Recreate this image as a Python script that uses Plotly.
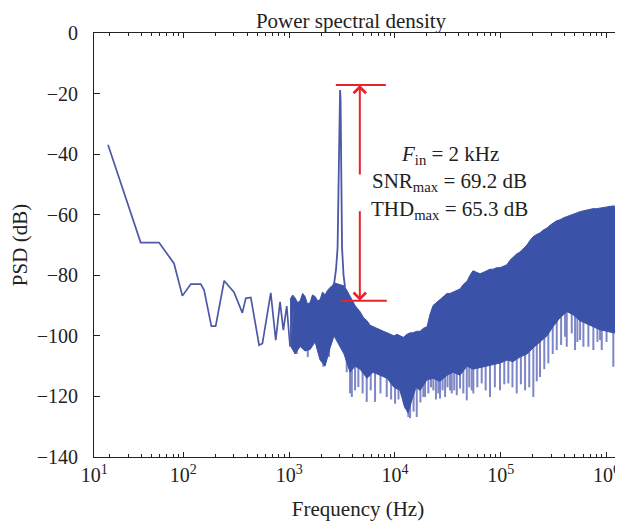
import numpy as np
import plotly.graph_objects as go

FONT = "Liberation Serif"
BAND = "#3a52a8"
LINE = "#4d58a6"
SPIKE = "#7d86c6"
RED = "#e8232a"
AX = "#222222"

# ---- low-frequency part of the PSD (Hz, dB) ----
line_freq = [19.4, 39.5, 58.9, 81.6, 97.9, 117.6, 146, 157, 184, 202, 243, 301,
             361, 389, 434, 520, 559, 670, 747, 820, 881, 949, 1020, 1097]
line_psd = [-36.9, -69.2, -69.2, -76.1, -86.8, -82.9, -82.9, -84.9, -96.8, -96.8, -81.8, -85.6,
            -92.4, -87.6, -87.3, -103.1, -102.5, -85.8, -101.4, -88.8, -98.1, -90.2, -103.6, -91.5]

# ---- signal tone ----
peak_freq = [2657, 2775, 2868, 2931, 2994, 3029, 3062, 3114, 3162, 3267, 3376]
peak_psd = [-83, -78, -71, -45, -22, -18.8, -22, -45, -71, -80, -84]

# ---- dense noise band: upper envelope (Hz, dB) ----
upper_freq = [1020, 1080, 1138, 1200, 1268, 1340, 1414, 1490, 1577, 1660, 1758, 1860,
              1960, 2070, 2185, 2300, 2436, 2550, 2657,
              3302, 3520, 3764, 3970, 4197, 4430, 4679, 5050, 5450, 5820, 6210, 6700,
              7230, 7800, 8420, 9100, 9800, 10450, 11160, 12000, 13000, 13900, 14820,
              16000, 17260, 18600, 20100, 21400, 22900, 24700, 26670, 28800, 31060,
              33100, 35400, 38200, 41220, 44400, 48000, 51200, 54700, 59000, 63700,
              68800, 74200, 79200, 84500, 91200, 98400, 106000, 114600, 122400, 130600,
              141000, 152000, 164000, 177000, 189000, 201800, 218000, 235000, 254000,
              273700, 292000, 311800, 337000, 363000, 392000, 423300, 452000, 482300,
              520000, 561600, 606000, 654100, 698000, 745000, 804000, 867500, 936000,
              1010000, 1078000, 1151000, 1243000, 1340000, 1400000]
upper_psd = [-88, -86.5, -87.5, -89, -88.5, -86, -87, -89.5, -89, -86.5, -87, -88.5,
             -88, -85.5, -86.5, -85, -84, -83.5, -82.5,
             -83.5, -85, -87, -88.5, -90, -91, -92, -94, -95, -96.5, -97, -97.5,
             -98, -98.5, -99, -99.5, -100, -99.5, -100, -100.5, -99.5, -99, -99,
             -98.5, -98.5, -97.5, -97, -93, -90, -89, -88, -87, -86,
             -86, -85.5, -85, -84.5, -83, -82, -80, -78.5, -79, -79.5,
             -79, -78.5, -78, -78, -77.5, -77.5, -77, -76.5, -75, -74,
             -73, -72.3, -71, -70, -68.5, -67.3, -66.5, -66, -65,
             -64.4, -63.5, -62.8, -62, -61.7, -61, -60.6, -60.2, -60,
             -59.5, -59, -58.7, -58.4, -58.2, -58, -58, -57.8, -57.5,
             -57.3, -57.2, -57.1, -57.3, -57.5, -57.5]

# ---- dense noise band: lower envelope of the solid body (Hz, dB) ----
lower_freq = [1020, 1138, 1268, 1414, 1577, 1758, 1960, 2185, 2436, 2657,
              3302, 3764, 4197, 4679, 5450, 6210, 7230, 8420, 9800, 11160,
              12190, 13300, 14520, 15830,
              17260, 20100, 22900, 26670, 31060, 35400, 41220, 48000, 54700, 63700,
              74200, 84500, 98400, 114600, 130600, 152000, 177000, 201800, 235000, 273700,
              311800, 363000, 423300, 482300, 561600, 654100, 745000, 867500, 1010000, 1151000,
              1340000, 1400000]
lower_psd = [-103, -106, -103.5, -105, -104.5, -102, -108, -110, -104, -100,
             -106, -112, -110, -111, -114, -112, -113, -114, -117, -118,
             -123, -125.5, -121, -117,
             -118, -114.5, -114, -115, -113, -112, -113, -110, -111, -110.5,
             -110, -109.5, -109, -108, -108.5, -107, -106, -104, -102, -100,
             -97, -94, -92, -93, -95, -96, -97, -98, -98.5, -99,
             -99, -99]

# ---- downward noise spikes below the body (Hz, tip dB) ----
spike_freq = [1180, 1500, 2104, 2380, 3500, 3767, 3910, 4200, 4510, 4950, 5410, 5900, 6485,
              7300, 8360, 9200, 10030, 10800, 11590, 12500, 13390, 13900, 15000, 16070,
              17400, 18540, 19250, 20690, 21900, 23070, 24400, 25700, 26670, 28200, 29780,
              31400, 33200, 34420, 36300, 38390, 41220, 44300, 47740, 50400, 53210, 55050,
              60100, 66070, 72000, 79200, 88000, 98400, 108000, 118000, 129000, 141600,
              155000, 169800, 186000, 203300, 219000, 235000, 258000, 281800, 310000,
              338200, 372000, 405500, 420600, 469000, 503800, 530000, 562300, 604300,
              673700, 750600, 820000, 869000, 901000, 1000000, 1159000, 1240000, 1291000,
              1343000]
spike_psd = [-106, -107, -110.2, -107, -112, -119, -120.2, -118, -116.9, -119, -121.8, -118, -121.8,
             -119, -120.2, -121, -122.4, -121, -119.6, -124, -126.8, -127.2, -125, -126.8,
             -122, -120.2, -120.2, -119, -117, -118, -121, -119, -120.7, -118, -120.2,
             -117, -118, -119, -118, -119.6, -117.4, -119, -121.3, -117, -118, -119,
             -117, -115.7, -118, -120.2, -117, -118, -116, -115.7, -117, -119,
             -116, -118, -117, -120.2, -115, -113.6, -111, -109.1, -106,
             -104.7, -103, -100.3, -103.6, -99.2, -104.7, -102, -101.4, -103.6,
             -103.6, -104.7, -102, -101.4, -104.7, -102, -110.2, -103, -103.6,
             -104.7]

# ---- annotation values ----
mark_freq = 4656
snr_top_db, snr_bottom_db = -17.2, -88.4
gap_top_db, gap_bottom_db = -47.2, -58.4
top_bar_freq = [2761, 8204]
bottom_bar_freq = [3076, 8375]
labels = ["<i>F</i><sub>in</sub> = 2 kHz", "SNR<sub>max</sub> = 69.2 dB", "THD<sub>max</sub> = 65.3 dB"]

x_tick_vals = [14.35, 1e2, 1e3, 1e4, 1e5, 1e6]
x_tick_text = ["10<sup>1</sup>", "10<sup>2</sup>", "10<sup>3</sup>", "10<sup>4</sup>", "10<sup>5</sup>", "10<sup>6</sup>"]
x_minor = [m * 10 ** d for d in range(1, 6) for m in range(2, 10)]
y_tick_vals = [-140, -120, -100, -80, -60, -40, -20, 0]

# spike segments: from tip up into the band body
lf = np.log10(lower_freq)
sx, sy = [], []
for f, v in zip(spike_freq, spike_psd):
    base = float(np.interp(np.log10(f), lf, lower_psd)) + 3
    sx += [f, f, None]
    sy += [v, base, None]

fig = go.Figure()
fig.add_trace(go.Scatter(x=sx, y=sy, mode="lines", line=dict(color=SPIKE, width=2), hoverinfo="skip"))
fig.add_trace(go.Scatter(x=upper_freq, y=upper_psd, mode="lines", line=dict(color=BAND, width=1)))
fig.add_trace(go.Scatter(x=lower_freq, y=lower_psd, mode="lines", line=dict(color=BAND, width=1),
                         fill="tonexty", fillcolor=BAND))
fig.add_trace(go.Scatter(x=line_freq, y=line_psd, mode="lines", line=dict(color=LINE, width=1.7)))
fig.add_trace(go.Scatter(x=peak_freq, y=peak_psd, mode="lines", line=dict(color=LINE, width=1.8)))
fig.add_trace(go.Scatter(x=top_bar_freq, y=[snr_top_db] * 2, mode="lines", line=dict(color=RED, width=2)))
fig.add_trace(go.Scatter(x=bottom_bar_freq, y=[snr_bottom_db] * 2, mode="lines", line=dict(color=RED, width=2)))

# the page body adds an 8px offset, so the figure is sized to end at the window edge
W, H = 615, 516

tfont = dict(family=FONT, size=21, color=AX)
kfont = dict(family=FONT, size=20, color=AX)
ann = []
for i, t in enumerate(labels):
    ann.append(dict(text=t, xref="paper", yref="paper", x=0.674, y=0.712 - i * 0.0645,
                    xanchor="center", yanchor="middle", showarrow=False, font=tfont))
for tip, tail in [(snr_top_db, gap_top_db), (snr_bottom_db, gap_bottom_db)]:
    ann.append(dict(text="", x=np.log10(mark_freq), y=tip, xref="x", yref="y",
                    ax=0, ay=tail, axref="pixel", ayref="y", showarrow=True,
                    arrowhead=4, arrowsize=1.2, arrowwidth=2, arrowcolor=RED))

fig.update_layout(
    width=W, height=H,
    margin=dict(l=86, r=1, t=25, b=67, autoexpand=False),
    plot_bgcolor="white", paper_bgcolor="white",
    showlegend=False,
    font=tfont,
    title=dict(text="Power spectral density", x=343 / W, xanchor="center", xref="container",
               y=1 - 12.5 / H, yanchor="middle", yref="container", font=tfont),
    annotations=ann,
    xaxis=dict(type="log", range=[np.log10(14.3), np.log10(1.4e6)], automargin=False,
               tickmode="array", tickvals=x_tick_vals, ticktext=x_tick_text,
               ticks="inside", ticklen=5, tickwidth=1, tickcolor=AX,
               showline=True, linecolor=AX, linewidth=1, mirror="ticks",
               showgrid=False, zeroline=False, tickfont=kfont,
               minor=dict(tickmode="array", tickvals=x_minor, ticks="inside",
                          ticklen=3, tickwidth=1, tickcolor=AX, showgrid=False),
               title=dict(text="Frequency (Hz)", font=tfont, standoff=16)),
    yaxis=dict(range=[-140, 0], tickmode="array", tickvals=y_tick_vals, automargin=False,
               ticks="inside", ticklen=6, tickwidth=1, tickcolor=AX,
               showline=True, linecolor=AX, linewidth=1, mirror="ticks",
               showgrid=False, zeroline=False, tickfont=kfont, ticklabelstandoff=11,
               title=dict(text="PSD (dB)", font=tfont, standoff=8)),
)

fig.write_html("out.html")
